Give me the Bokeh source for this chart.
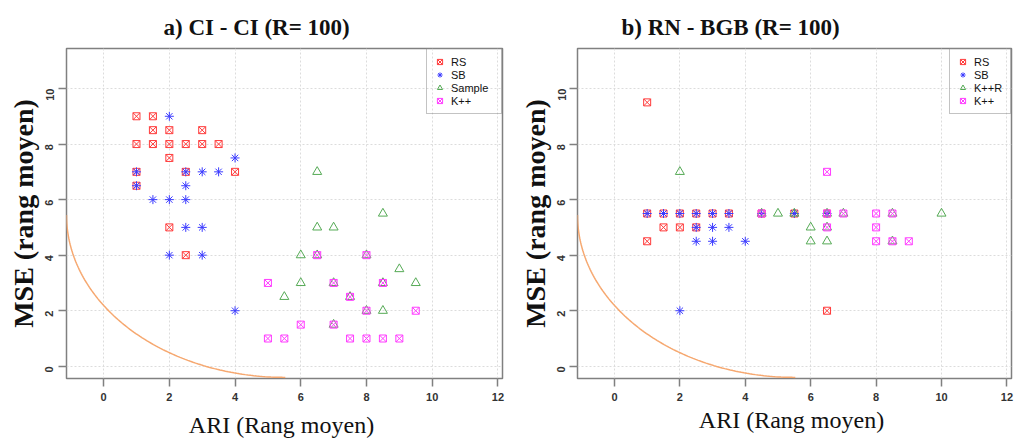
import math
import numpy as np
from bokeh.plotting import figure
from bokeh.layouts import row
from bokeh.models import Range1d, FixedTicker, Legend, LegendItem, Title
from bokeh.embed import file_html
from bokeh.resources import INLINE

# ---------------- data ----------------
# panel a) CI - CI (R= 100)
a_rs_x = [1, 1.5, 1.5, 2, 3, 1, 1.5, 2, 2.5, 3, 3.5, 2, 1, 2.5, 4, 1, 2, 2.5]
a_rs_y = [9, 9, 8.5, 8.5, 8.5, 8, 8, 8, 8, 8, 8, 7.5, 7, 7, 7, 6.5, 5, 4]
a_sb_x = [2, 4, 1, 2.5, 3, 3.5, 1, 2.5, 1.5, 2, 2.5, 2.5, 3, 2, 3, 4]
a_sb_y = [9, 7.5, 7, 7, 7, 7, 6.5, 6.5, 6, 6, 6, 5, 5, 4, 4, 2]
a_sa_x = [6.5, 8.5, 6.5, 7, 6, 6.5, 8, 9, 6, 7, 8.5, 9.5, 5.5, 7.5, 8, 8.5, 7]
a_sa_y = [7, 5.5, 5, 5, 4, 4, 4, 3.5, 3, 3, 3, 3, 2.5, 2.5, 2, 2, 1.5]
a_kp_x = [6.5, 8, 5, 7, 8.5, 7.5, 8, 9.5, 6, 7, 5, 5.5, 7.5, 8, 8.5, 9]
a_kp_y = [4, 4, 3, 3, 3, 2.5, 2, 2, 1.5, 1.5, 1, 1, 1, 1, 1, 1]

# panel b) RN - BGB (R= 100)
b_rs_x = [1, 1, 1.5, 2, 2.5, 3, 3.5, 4.5, 5.5, 6.5, 1.5, 2, 2.5, 1, 6.5]
b_rs_y = [9.5, 5.5, 5.5, 5.5, 5.5, 5.5, 5.5, 5.5, 5.5, 5.5, 5, 5, 5, 4.5, 2]
b_sb_x = [1, 1.5, 2, 2.5, 3, 3.5, 4.5, 5.5, 6.5, 2.5, 3, 3.5, 2.5, 3, 4, 2]
b_sb_y = [5.5, 5.5, 5.5, 5.5, 5.5, 5.5, 5.5, 5.5, 5.5, 5, 5, 5, 4.5, 4.5, 4.5, 2]
b_kr_x = [2, 4.5, 5, 5.5, 6.5, 7, 8.5, 10, 6, 6.5, 6, 6.5, 8.5]
b_kr_y = [7, 5.5, 5.5, 5.5, 5.5, 5.5, 5.5, 5.5, 5, 5, 4.5, 4.5, 4.5]
b_kp_x = [6.5, 4.5, 6.5, 7, 8, 8.5, 6.5, 8, 8, 8.5, 9]
b_kp_y = [7, 5.5, 5.5, 5.5, 5.5, 5.5, 5, 5, 4.5, 4.5, 4.5]

# guide curve (quarter ellipse) parameters
curve_cx, curve_cy, curve_rx, curve_ry = 5.53, 5.45, 6.66, 5.85

x_ticks = [0, 2, 4, 6, 8, 10, 12]
y_ticks = [0, 2, 4, 6, 8, 10]

titles = ["a) CI - CI (R= 100)", "b) RN - BGB   (R= 100)"]
xlabels = ["ARI  (Rang moyen)", "ARI  (Rang moyen)"]
ylabel = "MSE (rang moyen)"
legend_a = ["RS", "SB", "Sample", "K++"]
legend_b = ["RS", "SB", "K++R", "K++"]

C_RS = "#ff3a3a"
C_SB = "#3b3bff"
C_SA = "#55aa55"
C_KP = "#ff3cff"
C_CURVE = "#f6a870"
SERIF = "Liberation Serif"
SANS = "Liberation Sans"


def make_panel(width, height, bl, br, bt, bb, series, names, title, xlabel,
               title_offset, ytick_standoff, xtick_standoff, xlab_standoff,
               label_width):
    p = figure(width=width, height=height, output_backend="svg",
               toolbar_location=None, tools="",
               x_range=Range1d(-1.13, 12.14), y_range=Range1d(-0.44, 11.44),
               min_border_left=bl, min_border_right=br,
               min_border_top=bt, min_border_bottom=bb)
    p.title = Title(text=title, align="left", offset=title_offset,
                    text_font=SERIF, text_font_size="23px",
                    text_font_style="bold", text_color="#111111", standoff=18)
    p.background_fill_color = "white"
    p.border_fill_color = "white"
    p.outline_line_color = "#808080"
    p.outline_line_width = 1.5

    for ax in (p.xaxis, p.yaxis):
        ax.axis_line_color = None
        ax.major_tick_line_color = "#808080"
        ax.major_tick_line_width = 1.5
        ax.major_tick_in = 0
        ax.major_tick_out = 8
        ax.minor_tick_line_color = None
        ax.major_label_text_font = SANS
        ax.major_label_text_font_size = "11px"
        ax.major_label_text_font_style = "bold"
        ax.major_label_text_color = "#333333"
        ax.axis_label_text_font = SERIF
        ax.axis_label_text_color = "#111111"
    p.xaxis.ticker = FixedTicker(ticks=x_ticks)
    p.yaxis.ticker = FixedTicker(ticks=y_ticks)
    p.xaxis.major_label_standoff = xtick_standoff
    p.yaxis.major_label_standoff = ytick_standoff
    p.yaxis.major_label_orientation = math.pi / 2

    p.xaxis.axis_label = xlabel
    p.xaxis.axis_label_text_font_size = "24px"
    p.xaxis.axis_label_text_font_style = "normal"
    p.xaxis.axis_label_standoff = xlab_standoff
    p.yaxis.axis_label = ylabel
    p.yaxis.axis_label_text_font_size = "28px"
    p.yaxis.axis_label_text_font_style = "bold"
    p.yaxis.axis_label_standoff = 0

    p.xgrid.ticker = FixedTicker(ticks=x_ticks)
    p.ygrid.ticker = FixedTicker(ticks=y_ticks)
    for g in (p.xgrid, p.ygrid):
        g.grid_line_color = "#dcdcdc"
        g.grid_line_dash = "2 2"
        g.grid_line_width = 1

    t = np.linspace(0, math.pi / 2, 120)
    p.line(curve_cx - curve_rx * np.cos(t), curve_cy - curve_ry * np.sin(t),
           line_color=C_CURVE, line_width=1.5)

    markers = ["square_x", "asterisk", "triangle", "square_x"]
    colors = [C_RS, C_SB, C_SA, C_KP]
    sizes = [7, 9, 9, 7]
    items = []
    for (xs, ys), mk, col, sz, nm in zip(series, markers, colors, sizes, names):
        r = p.scatter(xs, ys, marker=mk, size=sz, line_color=col,
                      fill_color=None, line_width=1)
        items.append(LegendItem(label=nm, renderers=[r]))

    leg = Legend(items=items, location="top_right", margin=0, padding=6,
                 spacing=0, glyph_width=13, glyph_height=13, label_height=13,
                 label_width=label_width, label_standoff=5,
                 label_text_font=SANS, label_text_font_size="11px",
                 label_text_color="#111111",
                 border_line_color="#888888", border_line_width=1,
                 background_fill_alpha=0)
    p.add_layout(leg)
    return p


pa = make_panel(513, 443, 66, 11, 48, 65,
                [(a_rs_x, a_rs_y), (a_sb_x, a_sb_y), (a_sa_x, a_sa_y), (a_kp_x, a_kp_y)],
                legend_a, titles[0], xlabels[0],
                97, 9, 6, 8, 44)
pb = make_panel(505, 443, 64, 7, 47, 59,
                [(b_rs_x, b_rs_y), (b_sb_x, b_sb_y), (b_kr_x, b_kr_y), (b_kp_x, b_kp_y)],
                legend_b, titles[1], xlabels[1],
                44, 8, 6, 3, 30)

layout = row(pa, pb)
open("out.html", "w").write(file_html(layout, INLINE))
